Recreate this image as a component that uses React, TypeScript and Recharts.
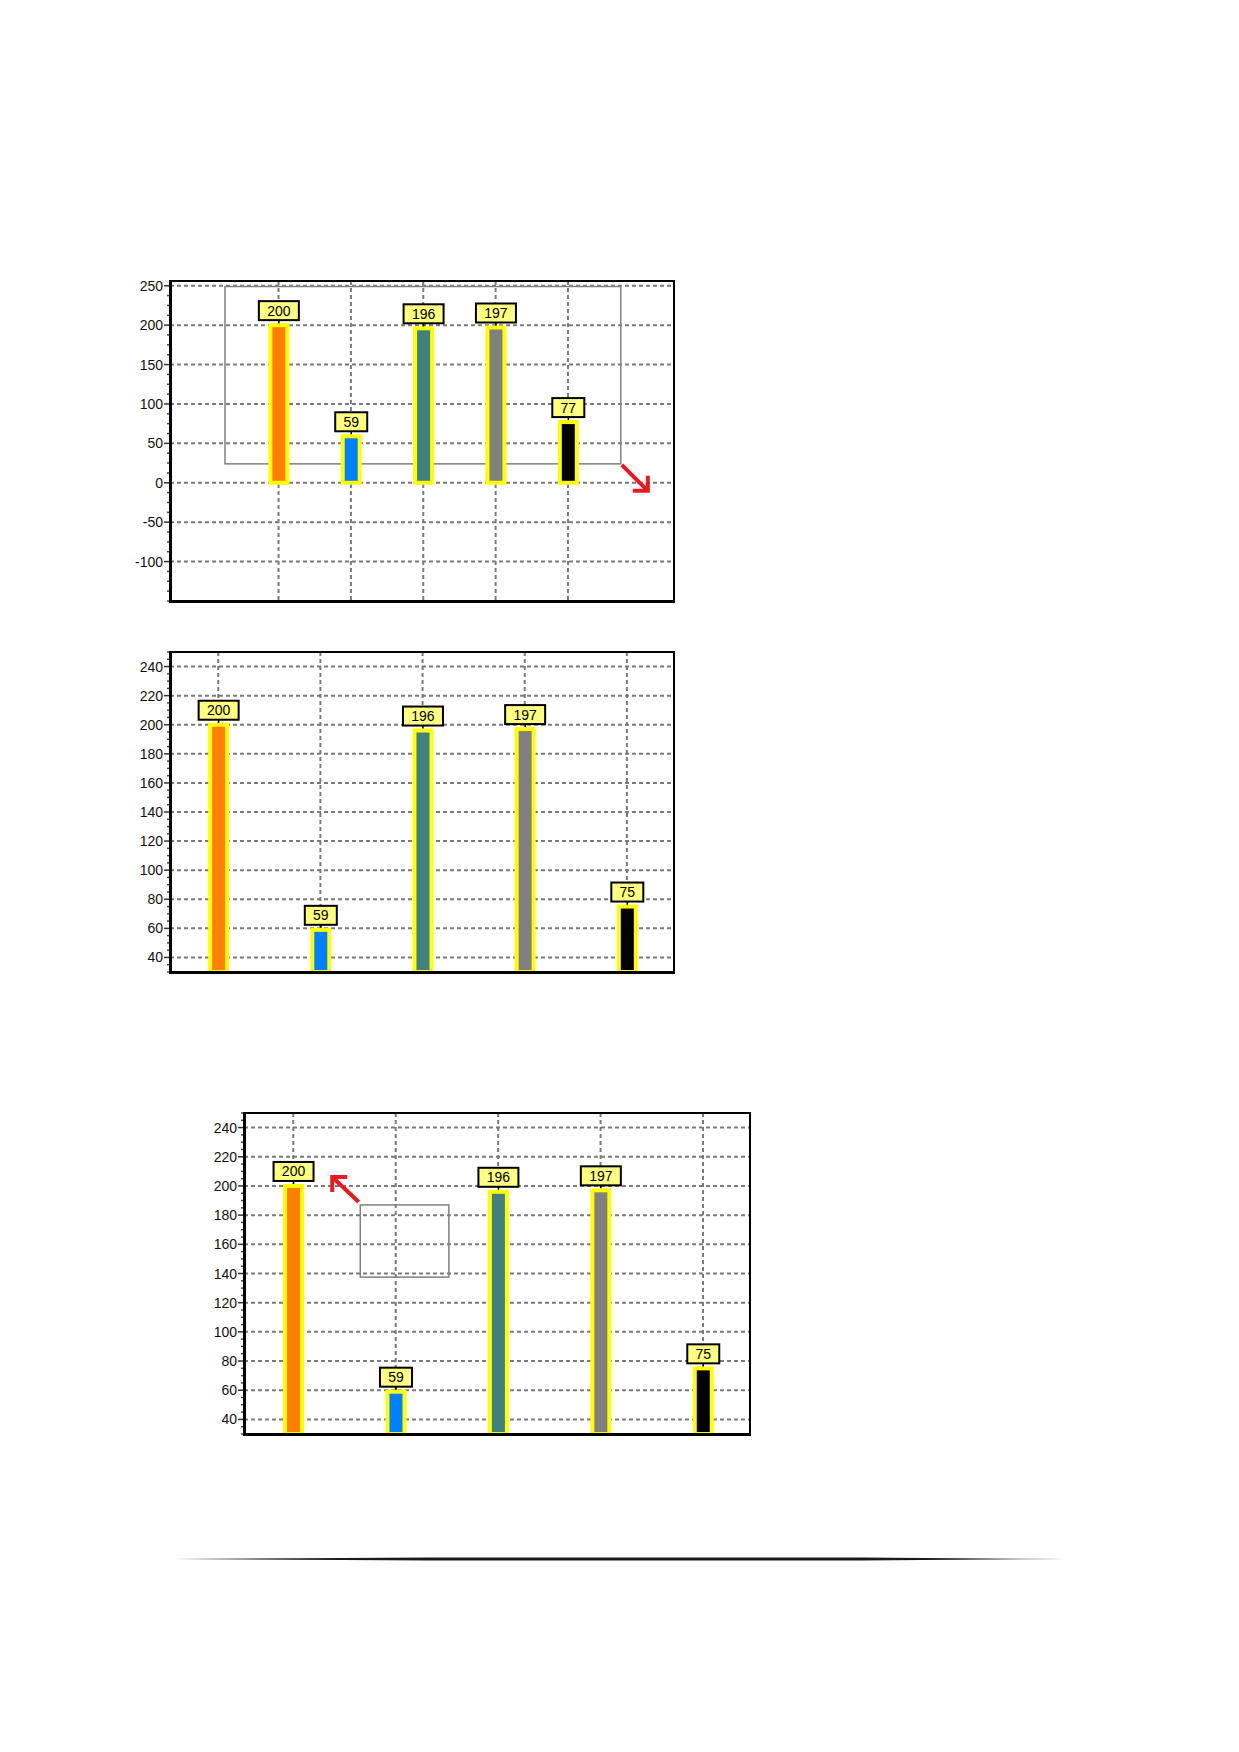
import React from 'react';
import { BarChart, Bar, XAxis, YAxis, CartesianGrid, LabelList, ReferenceArea } from 'recharts';

// x slots of the five bars
const positions = [1, 2, 3, 4, 5];
// top chart (full range) and the two zoomed views
const valuesFull = [200, 59, 196, 197, 77];
const valuesZoomed = [200, 59, 196, 197, 75];
const barColors = ['#ff8000', '#0080ff', '#408080', '#808080', '#000000'];
const ticksFull = [-100, -50, 0, 50, 100, 150, 200, 250];
const ticksZoomed = [40, 60, 80, 100, 120, 140, 160, 180, 200, 220, 240];

const FONT = '"Liberation Sans", Arial, sans-serif';

const makeRows = (values: number[]) => positions.map((pos, i) => ({ pos, value: values[i] }));

// unlabeled small marks along the y axis
const minorMarks = (from: number, to: number, step: number) => {
  const out: number[] = [];
  for (let v = from; v <= to + 1e-9; v += step) out.push(Math.round(v * 100) / 100);
  return out;
};

const AxisTick = (props: any) => {
  const { x, y, payload, majors } = props;
  const axisX = x + 7;
  if (!majors.includes(payload.value)) {
    return <line x1={axisX - 3} x2={axisX} y1={y} y2={y} stroke="#444" strokeWidth={1.5} />;
  }
  return (
    <g>
      <line x1={axisX - 6} x2={axisX} y1={y} y2={y} stroke="#333" strokeWidth={1.5} />
      <text x={x} y={y} dy="0.36em" textAnchor="end" fontSize={14} fontFamily={FONT} fill="#111">
        {payload.value}
      </text>
    </g>
  );
};

const OutlinedBar = (props: any) => {
  const { x, y, width, height, index } = props;
  if (height == null || isNaN(height)) return null;
  return (
    <rect
      x={x}
      y={y}
      width={width}
      height={Math.max(height, 0)}
      fill={barColors[index]}
      stroke="#ffff00"
      strokeWidth={4}
    />
  );
};

const ValueTag = (props: any) => {
  const { x, y, width, value } = props;
  const cx = x + width / 2;
  const w = String(value).length * 8 + 16;
  return (
    <g>
      <line x1={cx} x2={cx} y1={y - 5} y2={y - 2} stroke="#000" strokeWidth={1.5} />
      <rect x={cx - w / 2} y={y - 24} width={w} height={19} fill="#ffff80" stroke="#000" strokeWidth={2} />
      <text x={cx} y={y - 14.5} dy="0.36em" textAnchor="middle" fontSize={14} fontFamily={FONT} fill="#000">
        {value}
      </text>
    </g>
  );
};

// zoom selection box with the red arrow pointing away from one corner
const selectionShape = (corner: 'br' | 'tl') => (props: any) => {
  const { x, y, width, height } = props;
  let tx, ty, px, py, arm;
  if (corner === 'br') {
    tx = x + width + 1;
    ty = y + height + 1;
    px = tx + 26;
    py = ty + 26;
    arm = `${px - 15},${py} ${px},${py} ${px},${py - 15}`;
  } else {
    tx = x - 1.5;
    ty = y - 3;
    px = tx - 26.5;
    py = ty - 25;
    arm = `${px + 15},${py} ${px},${py} ${px},${py + 15}`;
  }
  return (
    <g>
      <rect x={x} y={y} width={width} height={height} fill="none" stroke="#808080" strokeWidth={1.5} />
      <line x1={tx} y1={ty} x2={px} y2={py} stroke="#e8191f" strokeWidth={4} />
      <polyline points={arm} fill="none" stroke="#e8191f" strokeWidth={4} strokeLinejoin="miter" />
    </g>
  );
};

interface PanelProps {
  values: number[];
  domainX: [number, number];
  domainY: [number, number];
  majors: number[];
  minorStep: number;
  left: number;
  top: number;
  width: number;
  height: number;
  margin: { top: number; right: number; bottom: number; left: number };
  axisWidth: number;
  area?: { x1: number; x2: number; y1: number; y2: number; corner: 'br' | 'tl' };
}

const Panel: React.FC<PanelProps> = ({
  values, domainX, domainY, majors, minorStep, left, top, width, height, margin, axisWidth, area,
}) => {
  const pl = margin.left + axisWidth;
  const pt = margin.top;
  const pw = width - pl - margin.right;
  const ph = height - margin.top - margin.bottom;
  return (
    <div style={{ position: 'absolute', left, top, width, height }}>
      <BarChart width={width} height={height} data={makeRows(values)} margin={margin}>
        <CartesianGrid
          stroke="#7a7a7a"
          strokeWidth={2}
          strokeDasharray="4 3"
          horizontalValues={majors}
          verticalValues={positions}
        />
        <XAxis type="number" dataKey="pos" domain={domainX} ticks={positions} hide />
        <YAxis
          type="number"
          domain={domainY}
          ticks={minorMarks(domainY[0], domainY[1], minorStep)}
          interval={0}
          width={axisWidth}
          axisLine={false}
          tickLine={false}
          tickSize={5}
          tickMargin={2}
          tick={(p: any) => <AxisTick {...p} majors={majors} />}
        />
        {area && (
          <ReferenceArea
            x1={area.x1}
            x2={area.x2}
            y1={area.y1}
            y2={area.y2}
            shape={selectionShape(area.corner)}
          />
        )}
        <Bar dataKey="value" barSize={17} shape={OutlinedBar} isAnimationActive={false}>
          <LabelList dataKey="value" content={ValueTag} />
        </Bar>
      </BarChart>
      <div
        style={{
          position: 'absolute',
          left: pl - 1.5,
          top: pt - 1,
          width: pw + 2.5,
          height: ph + 2.5,
          borderStyle: 'solid',
          borderColor: '#000',
          borderWidth: '2px 2px 3px 3px',
          boxSizing: 'border-box',
          pointerEvents: 'none',
        }}
      />
    </div>
  );
};

export default function App() {
  return (
    <div style={{ position: 'absolute', left: 0, top: 0, width: 1239, height: 1752, background: '#fff' }}>
      <Panel
        values={valuesFull}
        domainX={[-0.5, 6.465]}
        domainY={[-150, 256]}
        majors={ticksFull}
        minorStep={12.5}
        left={100}
        top={260}
        width={600}
        height={360}
        margin={{ top: 21, right: 26, bottom: 19, left: 0 }}
        axisWidth={70}
        area={{ x1: 0.26, x2: 5.73, y1: 24, y2: 249, corner: 'br' }}
      />
      <Panel
        values={valuesZoomed}
        domainX={[0.528, 5.461]}
        domainY={[30, 250]}
        majors={ticksZoomed}
        minorStep={5}
        left={100}
        top={630}
        width={600}
        height={360}
        margin={{ top: 22, right: 26, bottom: 18, left: 0 }}
        axisWidth={70}
      />
      <Panel
        values={valuesZoomed}
        domainX={[0.519, 5.459]}
        domainY={[30, 250]}
        majors={ticksZoomed}
        minorStep={5}
        left={170}
        top={1090}
        width={600}
        height={370}
        margin={{ top: 23, right: 20, bottom: 26, left: 0 }}
        axisWidth={74}
        area={{ x1: 1.654, x2: 2.519, y1: 137.5, y2: 187, corner: 'tl' }}
      />
      <svg
        width={1239}
        height={20}
        style={{ position: 'absolute', left: 0, top: 1549 }}
      >
        <path d="M173,10 L430,8.6 L860,8.6 L1068,10 L860,11.4 L430,11.4 Z" fill="#1a1a1a" />
      </svg>
    </div>
  );
}
